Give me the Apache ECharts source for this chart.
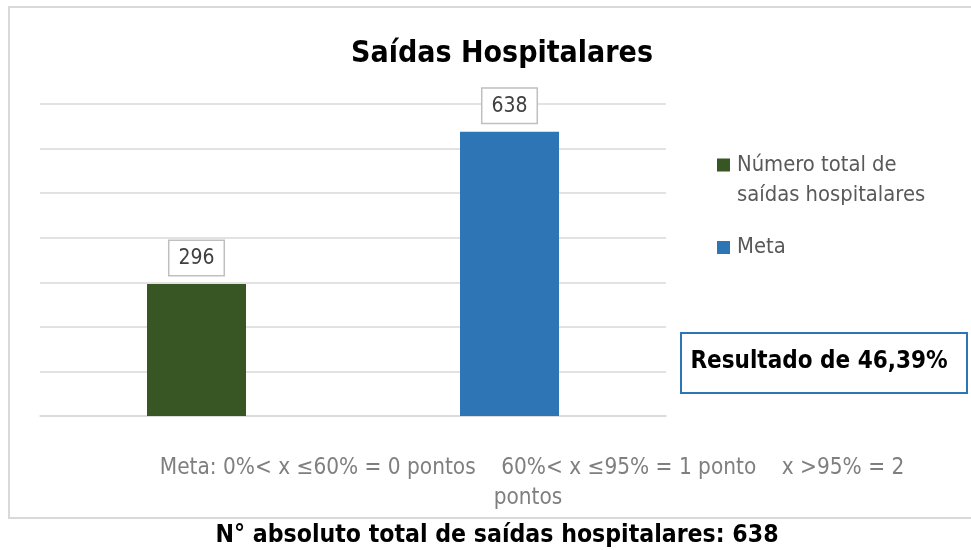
<!DOCTYPE html>
<html><head><meta charset="utf-8">
<script src="https://cdn.jsdelivr.net/npm/echarts@6/dist/echarts.min.js"></script>
<style>html,body{margin:0;padding:0;background:#fff}#c{width:971px;height:550px}</style>
</head><body><div id="c"></div>
<script>
const categories = ['Número total de saídas hospitalares', 'Meta'];
const seriesNames = ['Número total de\nsaídas hospitalares', 'Meta'];
const totalValues = [296, '-'];
const metaValues = ['-', 638];
const yTicks = [0, 100, 200, 300, 400, 500, 600, 700];
const titleText = 'Saídas Hospitalares';
const resultText = 'Resultado de 46,39%';
const noteLine1 = 'Meta: 0%< x ≤60% = 0 pontos    60%< x ≤95% = 1 ponto    x >95% = 2';
const noteLine2 = 'pontos';
const footerText = 'N° absoluto total de saídas hospitalares: 638';

const NARROW = '"Liberation Sans Narrow","DejaVu Sans Condensed","Liberation Sans",sans-serif';
const chart = echarts.init(document.getElementById('c'), null, {renderer: 'canvas'});
const labelStyle = {
  show: true, position: 'top', distance: 9,
  fontFamily: NARROW, fontSize: 21, color: '#404040',
  borderColor: '#bfbfbf', borderWidth: 1.5, padding: [7, 9, 6, 9], backgroundColor: '#fff'
};
// legend icons: square drawn at top (first line) / middle of a 13x43 box
const iconTop = 'path://M0,0L13,0L13,13L0,13Z M0,43L0.01,43';
const iconMid = 'path://M0,0L0.01,0 M0,15L13,15L13,28L0,28Z M0,43L0.01,43';
chart.setOption({
  animation: false,
  title: {
    text: titleText, left: 497, top: 34, textAlign: 'center',
    textStyle: {fontFamily: NARROW, fontWeight: 'bold', fontSize: 30, color: '#000'}
  },
  legend: {
    orient: 'vertical', left: 712, top: 145, itemWidth: 13, itemHeight: 43, itemGap: 16,
    textStyle: {fontFamily: NARROW, fontSize: 21.8, color: '#595959', lineHeight: 30, padding: [0, 0, 0, 2]},
    data: [{name: seriesNames[0], icon: iconTop}, {name: seriesNames[1], icon: iconMid}]
  },
  grid: {left: 40, right: 305, top: 104, bottom: 134},
  xAxis: {
    type: 'category', data: categories,
    axisLine: {lineStyle: {color: '#d9d9d9', width: 1.5}},
    axisTick: {show: false}, axisLabel: {show: false}
  },
  yAxis: {
    type: 'value', min: yTicks[0], max: yTicks[yTicks.length - 1], interval: 100,
    axisLabel: {show: false}, axisLine: {show: false}, axisTick: {show: false},
    splitLine: {lineStyle: {color: '#d9d9d9', width: 1.5}}
  },
  series: [
    {name: seriesNames[0], type: 'bar', stack: 's', data: totalValues, barWidth: 99,
     itemStyle: {color: '#375623'}, label: labelStyle},
    {name: seriesNames[1], type: 'bar', stack: 's', data: metaValues, barWidth: 99,
     itemStyle: {color: '#2e75b6'}, label: labelStyle}
  ],
  graphic: [
    {type: 'rect', shape: {x: 9, y: 7, width: 975, height: 511}, silent: true, z: -10,
     style: {fill: 'none', stroke: '#d9d9d9', lineWidth: 2}},
    {type: 'rect', shape: {x: 681, y: 333, width: 286, height: 60},
     style: {fill: '#fff', stroke: '#2e75b6', lineWidth: 2}},
    {type: 'text', x: 819, y: 362,
     style: {text: resultText, fontFamily: NARROW, fontWeight: 'bold', fontSize: 24, fill: '#000',
             textAlign: 'center', textVerticalAlign: 'middle'}},
    {type: 'text', x: 532, y: 468,
     style: {text: noteLine1, fontFamily: NARROW, fontSize: 22.4, fill: '#7f7f7f',
             textAlign: 'center', textVerticalAlign: 'middle'}},
    {type: 'text', x: 528, y: 498,
     style: {text: noteLine2, fontFamily: NARROW, fontSize: 22.4, fill: '#7f7f7f',
             textAlign: 'center', textVerticalAlign: 'middle'}},
    {type: 'text', x: 497, y: 536,
     style: {text: footerText, fontFamily: NARROW, fontWeight: 'bold', fontSize: 24.6, fill: '#000',
             textAlign: 'center', textVerticalAlign: 'middle'}}
  ]
});
</script></body></html>
